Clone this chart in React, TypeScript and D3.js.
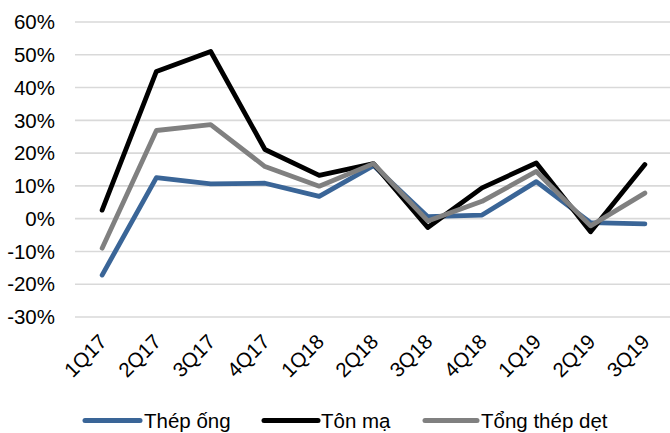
import React from "react";
import * as d3 from "d3";

const categories = ["1Q17","2Q17","3Q17","4Q17","1Q18","2Q18","3Q18","4Q18","1Q19","2Q19","3Q19"];
const thepOng = [-0.172, 0.125, 0.106, 0.108, 0.068, 0.162, 0.006, 0.011, 0.113, -0.012, -0.016];
const tonMa = [0.026, 0.449, 0.510, 0.211, 0.132, 0.168, -0.027, 0.094, 0.170, -0.040, 0.165];
const tongThepDet = [-0.090, 0.269, 0.287, 0.159, 0.099, 0.168, -0.007, 0.053, 0.144, -0.022, 0.078];
const yTicks = [-0.3, -0.2, -0.1, 0, 0.1, 0.2, 0.3, 0.4, 0.5, 0.6];

const seriesList = [
  { name: "Thép ống", values: thepOng, color: "#3A6597" },
  { name: "Tôn mạ", values: tonMa, color: "#000000" },
  { name: "Tổng thép dẹt", values: tongThepDet, color: "#808080" },
];

const legendPos = [
  { x1: 85, x2: 140, tx: 144 },
  { x1: 264, x2: 318, tx: 321 },
  { x1: 425, x2: 477, tx: 481 },
];

export default function App() {
  const W = 670, H = 433;
  const x = d3.scaleBand<string>().domain(categories).range([75, 672]).padding(0);
  const y = d3.scaleLinear().domain([-0.3, 0.6]).range([317, 22]);
  const cx = (c: string) => (x(c) as number) + x.bandwidth() / 2;
  const line = d3.line<number>().x((_, i) => cx(categories[i])).y((v) => y(v));
  const font = "'Liberation Sans', Arial, sans-serif";
  const fs = 20.5;
  return (
    <svg width={W} height={H} style={{ position: "absolute", left: 0, top: 0, background: "#fff" }} fontFamily={font}>
      <rect width={W} height={H} fill="#fff" />
      {yTicks.map((t) => (
        <g key={t}>
          <line x1={75} x2={672} y1={y(t)} y2={y(t)} stroke="#D9D9D9" strokeWidth={1.6} />
          <text x={55} y={y(t)} dy="0.35em" textAnchor="end" fontSize={fs} fill="#000">
            {d3.format(".0%")(t).replace("−", "-")}
          </text>
        </g>
      ))}
      {categories.map((c) => (
        <text key={c} transform={`translate(${cx(c) + 6},${343}) rotate(-45)`} textAnchor="end" fontSize={fs} fill="#000">
          {c}
        </text>
      ))}
      {seriesList.map((s) => (
        <path key={s.name} d={line(s.values) || ""} fill="none" stroke={s.color} strokeWidth={4.8} strokeLinejoin="round" strokeLinecap="round" />
      ))}
      {seriesList.map((s, i) => (
        <g key={s.name}>
          <line x1={legendPos[i].x1} x2={legendPos[i].x2} y1={420.5} y2={420.5} stroke={s.color} strokeWidth={5} strokeLinecap="round" />
          <text x={legendPos[i].tx} y={428} fontSize={fs} fill="#000">{s.name}</text>
        </g>
      ))}
    </svg>
  );
}
